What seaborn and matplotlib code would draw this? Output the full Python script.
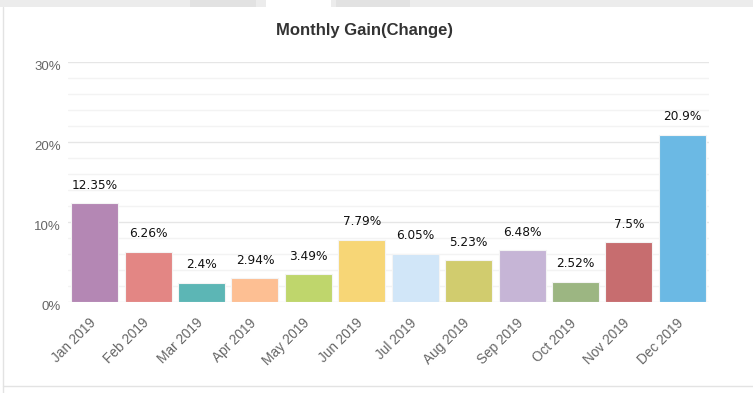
import matplotlib
matplotlib.use("Agg")
import matplotlib.pyplot as plt
import matplotlib.transforms as mtransforms
from matplotlib.patches import Rectangle
from matplotlib.lines import Line2D
from matplotlib.ticker import MultipleLocator, FuncFormatter
import pandas as pd
import seaborn as sns

months = ["Jan 2019", "Feb 2019", "Mar 2019", "Apr 2019", "May 2019", "Jun 2019",
          "Jul 2019", "Aug 2019", "Sep 2019", "Oct 2019", "Nov 2019", "Dec 2019"]
gains = [12.35, 6.26, 2.4, 2.94, 3.49, 7.79, 6.05, 5.23, 6.48, 2.52, 7.5, 20.9]
labels = ["12.35%", "6.26%", "2.4%", "2.94%", "3.49%", "7.79%",
          "6.05%", "5.23%", "6.48%", "2.52%", "7.5%", "20.9%"]
colors = ["#b487b4", "#e38684", "#5cb6b5", "#fdbf93", "#bfd66c", "#f7d676",
          "#d1e6f8", "#d1cc6e", "#c6b5d6", "#9cb682", "#c76d6f", "#6bb9e4"]

df = pd.DataFrame({"month": months, "gain": gains})

sns.set_style("white")
plt.rcParams["font.family"] = ["Liberation Sans", "DejaVu Sans"]

fig = plt.figure(figsize=(7.53, 3.93), dpi=100)
ax = fig.add_axes([68 / 753, 91 / 393, 641 / 753, 240 / 393])

sns.barplot(data=df, x="month", y="gain", hue="month", palette=colors,
            saturation=1, width=0.88, legend=False, ax=ax,
            edgecolor="#f4f4f4", linewidth=0.8, zorder=3)

ax.set_xlim(-0.5, 11.5)
ax.set_ylim(0, 30)
ax.yaxis.set_major_locator(MultipleLocator(10))
ax.yaxis.set_minor_locator(MultipleLocator(2))
ax.yaxis.set_major_formatter(FuncFormatter(lambda v, p: f"{v:.0f}%"))
ax.grid(axis="y", which="major", color="#e6e6e6", lw=1, zorder=0)
ax.grid(axis="y", which="minor", color="#f3f3f3", lw=1, zorder=0)
ax.set_axisbelow(True)
for s in ax.spines.values():
    s.set_visible(False)
ax.set_xlabel("")
ax.set_ylabel("")
ax.tick_params(axis="both", which="both", length=0)
ax.tick_params(axis="y", pad=5, labelsize=9.5, labelcolor="#666666")
ax.tick_params(axis="x", pad=10, labelsize=9.8, labelcolor="#666666")
left = mtransforms.ScaledTranslation(-6 / 100, 0, fig.dpi_scale_trans)
for t in ax.get_xticklabels():
    t.set_rotation(45)
    t.set_ha("right")
    t.set_rotation_mode("anchor")
    t.set_transform(t.get_transform() + left)
down = mtransforms.ScaledTranslation(0, -3 / 100, fig.dpi_scale_trans)
for t in ax.get_yticklabels():
    t.set_transform(t.get_transform() + down)

for i, (v, lab) in enumerate(zip(gains, labels)):
    ax.annotate(lab, (i, v), xytext=(0, 18), textcoords="offset pixels",
                ha="center", va="center", fontsize=8.7, color="#111111",
                family="DejaVu Sans")

fig.text(364 / 753, 1 - 30 / 393, "Monthly Gain(Change)", ha="center", va="center",
         fontsize=12, fontweight="bold", color="#333333")

# page decorations: tab strip, left border, bottom border
H = 393
W = 753
def rect(x0, x1, y0, y1, c):
    fig.add_artist(Rectangle((x0 / W, 1 - y1 / H), (x1 - x0) / W, (y1 - y0) / H,
                             transform=fig.transFigure, color=c, lw=0))
rect(0, 753, 0, 7, "#ececec")
rect(190, 256, 0, 7, "#e2e2e2")
rect(266, 331, 0, 8, "#ffffff")
rect(336, 410, 0, 7, "#e2e2e2")
fig.add_artist(Line2D([2.5 / W, 2.5 / W], [0, 1 - 7 / H], transform=fig.transFigure,
                      color="#e3e3e3", lw=1))
fig.add_artist(Line2D([2.5 / W, 1], [1 - 386 / H, 1 - 386 / H], transform=fig.transFigure,
                      color="#e3e3e3", lw=1))

fig.savefig("out.png", dpi=100)
